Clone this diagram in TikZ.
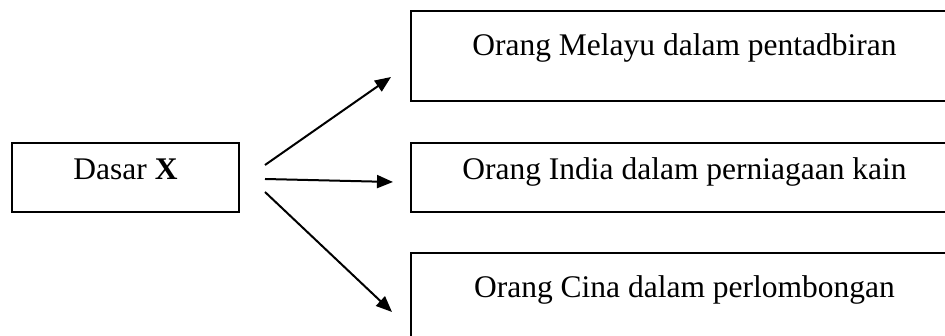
\documentclass[tikz,border=0pt]{standalone}
\usepackage{fontspec}
\setmainfont{Liberation Serif}
\usetikzlibrary{positioning}
\usetikzlibrary{arrows.meta}
\tikzstyle{box} = [rectangle,draw=black,line width=2pt,inner sep=0pt,minimum height=69pt, text height=0.7em, text depth=0.2em, font=\fontsize{31.5}{38}\selectfont]
\tikzstyle{link} = [line width=2pt, -{Triangle[length=16pt,width=13pt]}]

\begin{document}
\begin{tikzpicture}[x=1pt,y=1pt, tallbox/.style={box, minimum width=547pt, minimum height=90pt, text height=0.7em, text depth=0.7em}]
\useasboundingbox (0,0) rectangle (945,336);
\clip (0,0) rectangle (945,336);

% Define nodes
\node[box, minimum width=227pt]                 (dasar)  at (125.5,158.5) {Dasar \textbf{X}};
\node[box, minimum width=547pt, right = 170pt of dasar] (india) {Orang India dalam perniagaan kain};
\node[tallbox, above = 40pt of india]            (melayu) {Orang Melayu dalam pentadbiran};
\node[tallbox, below = 39pt of india]            (cina)   {Orang Cina dalam perlombongan};

% Arrow ends
\coordinate (s1) at ([shift={(25,12.5)}]dasar.east);
\coordinate (s2) at ([shift={(25,-1.5)}]dasar.east);
\coordinate (s3) at ([shift={(25,-14.5)}]dasar.east);
\coordinate (e1) at ([shift={(-19,-21)}]melayu.west);
\coordinate (e2) at ([shift={(-17,-4.5)}]india.west);
\coordinate (e3) at ([shift={(-18,-14)}]cina.west);

% Edges
\draw[link] (s1) -- (e1);
\draw[link] (s2) -- (e2);
\draw[link] (s3) -- (e3);
\end{tikzpicture}
\end{document}
